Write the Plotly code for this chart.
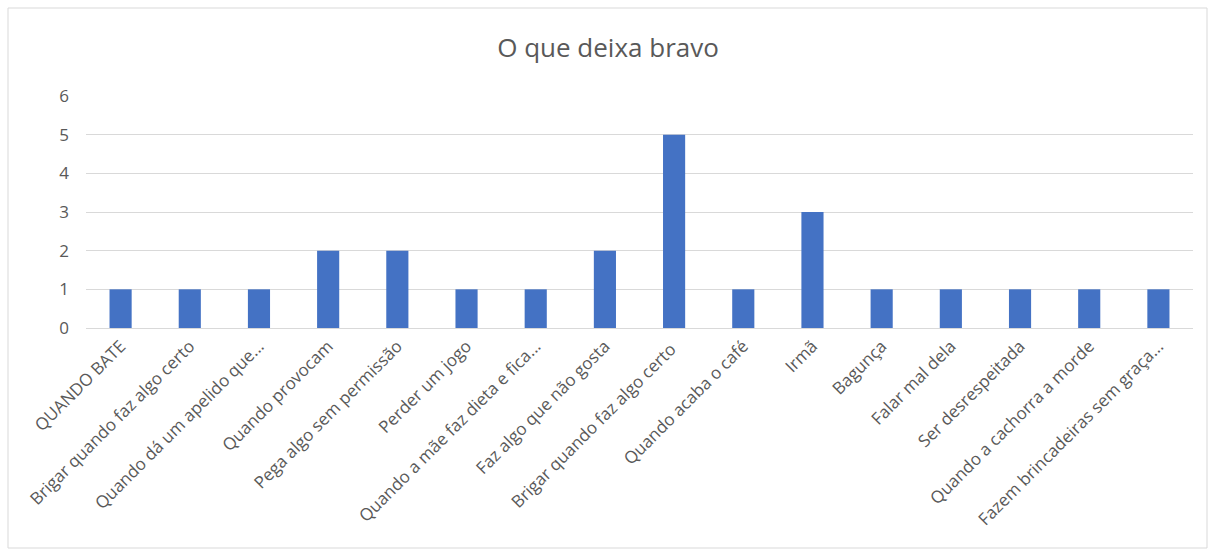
import plotly.graph_objects as go

categories = [
    "QUANDO BATE",
    "Brigar quando faz algo certo",
    "Quando dá um apelido que...",
    "Quando provocam",
    "Pega algo sem permissão",
    "Perder um jogo",
    "Quando a mãe faz dieta e fica...",
    "Faz algo que não gosta",
    "Brigar quando faz algo certo ",
    "Quando acaba o café",
    "Irmã",
    "Bagunça",
    "Falar mal dela",
    "Ser desrespeitada",
    "Quando a cachorra a morde",
    "Fazem brincadeiras sem graça...",
]
values = [1, 1, 1, 2, 2, 1, 1, 2, 5, 1, 3, 1, 1, 1, 1, 1]
y_ticks = [0, 1, 2, 3, 4, 5, 6]

W, H = 1216, 551
L, R, T, B = 86, 23, 96, 223
pw, ph = W - L - R, H - T - B

fig = go.Figure(go.Bar(x=categories, y=values, marker=dict(color="#4472C4", line=dict(width=0))))

def px_x(p):
    return (p - L) / pw
def px_y(p):
    return 1 - (p - T) / ph

fig.update_layout(
    width=W, height=H,
    margin=dict(l=L, r=R, t=T, b=B),
    paper_bgcolor="white", plot_bgcolor="white",
    bargap=0.68,
    showlegend=False,
    title=dict(text="O que deixa bravo", x=0.5, xref="container", xanchor="center",
               y=1 - 48 / H, yanchor="middle",
               font=dict(family="Open Sans, Carlito, sans-serif", size=26, color="#595959")),
    font=dict(family="Open Sans, Carlito, sans-serif", color="#595959"),
    shapes=[dict(type="rect", xref="paper", yref="paper",
                 x0=px_x(8), x1=px_x(1207), y0=px_y(548), y1=px_y(8),
                 line=dict(color="#d9d9d9", width=1), fillcolor="rgba(0,0,0,0)", layer="below")],
)
fig.update_xaxes(tickangle=-45, tickfont=dict(size=17, color="#595959"), showgrid=False,
                 showline=False, ticks="", type="category", ticklabelstandoff=4)
fig.update_yaxes(range=[0, 6], tickvals=y_ticks, tickfont=dict(size=17, color="#595959"),
                 showgrid=True, gridcolor="#d9d9d9", gridwidth=1, zeroline=True,
                 zerolinecolor="#d9d9d9", zerolinewidth=1, showline=False, ticks="",
                 ticklabelstandoff=16)
fig.write_html("out.html")
